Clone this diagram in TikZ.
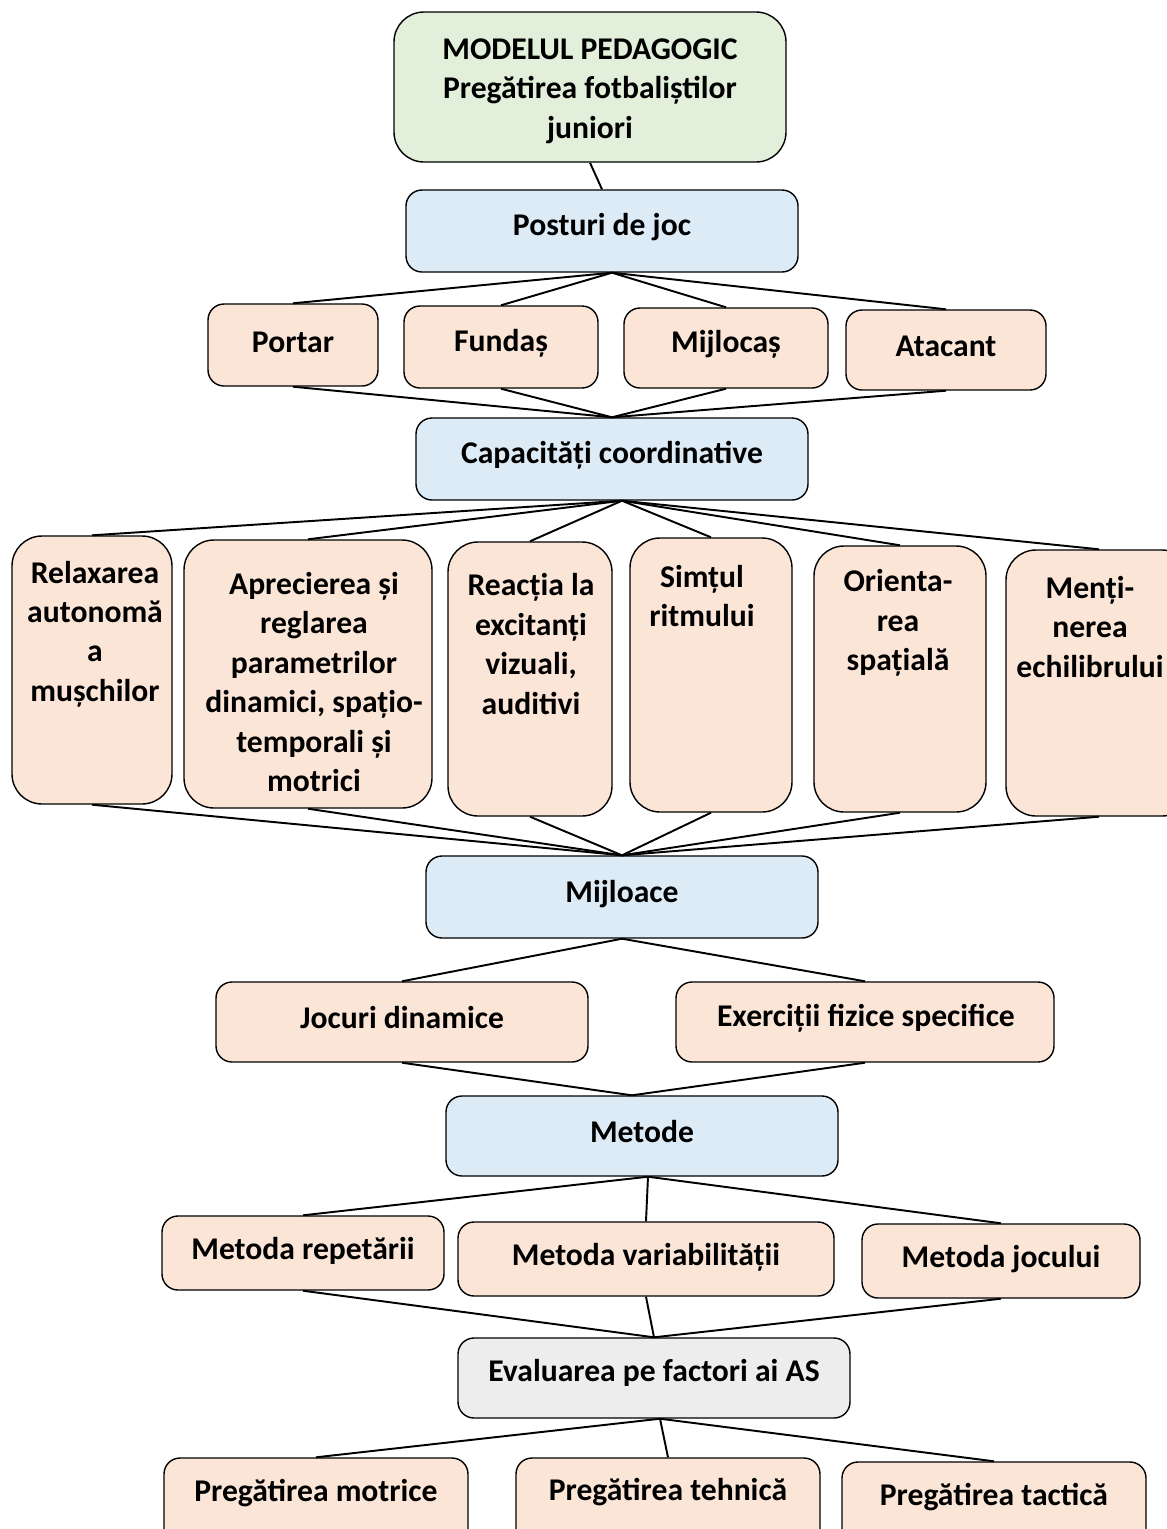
\documentclass[tikz,border=0pt]{standalone}
\usepackage{fontspec}
\setmainfont{Carlito}
\usetikzlibrary{fit,calc}
\definecolor{cGreen}{HTML}{E2EFDA}
\definecolor{cBlue}{HTML}{DDEBF7}
\definecolor{cPeach}{HTML}{FBE5D6}
\definecolor{cGray}{HTML}{EDEDED}
\begin{document}
\begin{tikzpicture}[x=0.02cm,y=-0.02cm,
  box/.style={draw=black, line width=0.8pt, rounded corners=0.32cm, inner sep=0pt},
  grn/.style={box, fill=cGreen, rounded corners=0.6cm},
  blu/.style={box, fill=cBlue},
  pch/.style={box, fill=cPeach},
  tall/.style={box, fill=cPeach, rounded corners=0.6cm},
  gry/.style={box, fill=cGray},
  txt/.style={font=\fontsize{18}{22.4}\selectfont\bfseries, align=center, inner sep=0pt, yshift=-0.04cm},
  conn/.style={line width=1.1pt}]
\useasboundingbox (0,0) rectangle (1167,1529);
% boxes
\node[grn, fit={(394,12) (786,162)}] (top) {};
\node[blu, fit={(406,190) (798,272)}] (post) {};
\node[pch, fit={(208,304) (378,386)}] (port) {};
\node[pch, fit={(404,306) (598,388)}] (fund) {};
\node[pch, fit={(624,308) (828,388)}] (mijl) {};
\node[pch, fit={(846,310) (1046,390)}] (atac) {};
\node[blu, fit={(416,418) (808,500)}] (cap) {};
\node[tall, fit={(12,536) (172,804)}] (relax) {};
\node[tall, fit={(184,540) (432,808)}] (apre) {};
\node[tall, fit={(448,542) (612,816)}] (reac) {};
\node[tall, fit={(630,538) (792,812)}] (simt) {};
\node[tall, fit={(814,546) (986,812)}] (orie) {};
\node[tall, fit={(1006,550) (1192,816)}] (ment) {};
\node[blu, fit={(426,856) (818,938)}] (mijloace) {};
\node[pch, fit={(216,982) (588,1062)}] (jocuri) {};
\node[pch, fit={(676,982) (1054,1062)}] (exer) {};
\node[blu, fit={(446,1096) (838,1176)}] (metode) {};
\node[pch, fit={(162,1216) (444,1290)}] (mrep) {};
\node[pch, fit={(458,1222) (834,1296)}] (mvar) {};
\node[pch, fit={(862,1224) (1140,1298)}] (mjoc) {};
\node[gry, fit={(458,1338) (850,1418)}] (eval) {};
\node[pch, fit={(164,1458) (468,1560)}] (pmot) {};
\node[pch, fit={(516,1458) (820,1560)}] (pteh) {};
\node[pch, fit={(842,1462) (1146,1560)}] (ptac) {};
% texts
\node[txt] (topT) at (590,89) {MODELUL PEDAGOGIC\\Pregătirea fotbaliștilor\\juniori};
\node[txt] (postT) at (602,225) {Posturi de joc};
\node[txt] (portT) at (293,340) {Portar};
\node[txt] (fundT) at (501,341) {Fundaș};
\node[txt] (mijlT) at (726,342) {Mijlocaș};
\node[txt] (atacT) at (946,344) {Atacant};
\node[txt] (capT) at (612,453) {Capacități coordinative};
\node[txt] (relaxT) at (95,632) {Relaxarea\\autonomă\\a\\mușchilor};
\node[txt] (apreT) at (314,680) {Aprecierea și\\reglarea\\parametrilor\\dinamici, spațio-\\temporali și\\motrici};
\node[txt] (reacT) at (531,642) {Reacția la\\excitanți\\vizuali,\\auditivi};
\node[txt] (simtT) at (702,594) {Simțul\\ritmului};
\node[txt] (orieT) at (898,621) {Orienta-\\rea\\spațială};
\node[txt] (mentT) at (1090,625) {Menți-\\nerea\\echilibrului};
\node[txt] (mijloaceT) at (622,892) {Mijloace};
\node[txt] (jocuriT) at (402,1016) {Jocuri dinamice};
\node[txt] (exerT) at (866,1016) {Exerciții fizice specifice};
\node[txt] (metodeT) at (642,1130) {Metode};
\node[txt] (mrepT) at (303,1249) {Metoda repetării};
\node[txt] (mvarT) at (646,1255) {Metoda variabilității};
\node[txt] (mjocT) at (1001,1257) {Metoda jocului};
\node[txt] (evalT) at (654,1371) {Evaluarea pe factori ai AS};
\node[txt] (pmotT) at (316,1491) {Pregătirea motrice};
\node[txt] (ptehT) at (668,1490) {Pregătirea tehnică};
\node[txt] (ptacT) at (994,1495) {Pregătirea tactică};
% connectors
\draw[conn] (top.south) -- (post.north);
\foreach \c in {port,fund,mijl,atac}{
  \draw[conn] ([xshift=0.2cm]post.south) -- (\c.north);
  \draw[conn] (\c.south) -- (cap.north);
}
\foreach \c in {relax,apre,reac,simt,orie,ment}{
  \draw[conn] ([xshift=0.2cm]cap.south) -- (\c.north);
  \draw[conn] (\c.south) -- (mijloace.north);
}
\draw[conn] (mijloace.south) -- (jocuri.north);
\draw[conn] (mijloace.south) -- (exer.north);
\draw[conn] (jocuri.south) -- ([xshift=-0.2cm]metode.north);
\draw[conn] (exer.south) -- ([xshift=-0.2cm]metode.north);
\foreach \c in {mrep,mvar,mjoc}{
  \draw[conn] ([xshift=0.12cm]metode.south) -- (\c.north);
  \draw[conn] (\c.south) -- (eval.north);
}
\foreach \c in {pmot,pteh,ptac}{
  \draw[conn] ([xshift=0.12cm]eval.south) -- (\c.north);
}
\end{tikzpicture}
\end{document}
